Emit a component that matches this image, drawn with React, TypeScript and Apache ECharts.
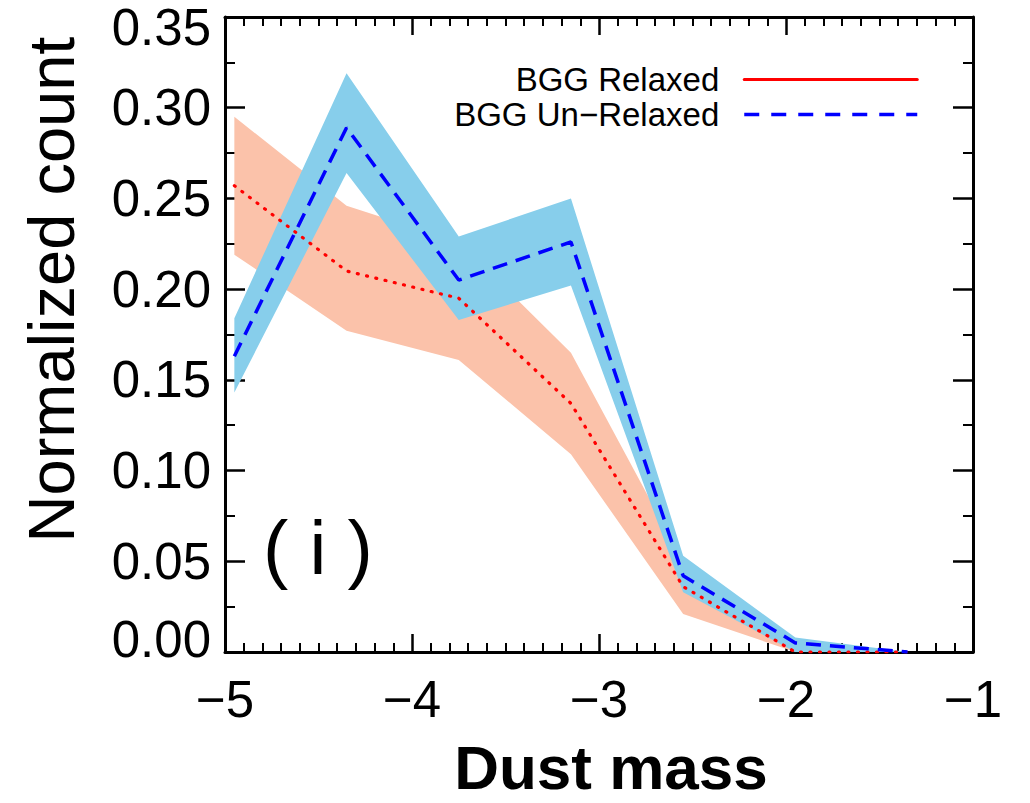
import React, { useEffect, useRef } from "react";
import * as echarts from "echarts";

// ---- data ----
const xCenters = [-4.95, -4.35, -3.75, -3.15, -2.55, -1.95, -1.35];

const relaxedMean = [0.257, 0.21, 0.195, 0.137, 0.036, 0.0, 0.0];
const relaxedLow = [0.219, 0.177, 0.161, 0.109, 0.021, 0.0, 0.0];
const relaxedHigh = [0.295, 0.246, 0.226, 0.165, 0.05, 0.001, 0.0];

const unrelaxedMean = [0.163, 0.289, 0.205, 0.226, 0.042, 0.005, 0.0];
const unrelaxedLow = [0.143, 0.264, 0.183, 0.202, 0.033, 0.0, 0.0];
const unrelaxedHigh = [0.184, 0.319, 0.229, 0.25, 0.053, 0.008, 0.0];

const seriesNames = ["BGG Relaxed", "BGG Un\u2212Relaxed"];
const xTitle = "Dust mass";
const yTitle = "Normalized count";
const panelLabel = "( i )";

const FONT = '"Liberation Sans", Arial, Helvetica, sans-serif';

function bandSeries(lo: number[], hi: number[], color: string, z: number) {
  return {
    type: "custom",
    xAxisIndex: 0,
    yAxisIndex: 0,
    z,
    silent: true,
    clip: true,
    data: xCenters.map((x, i) => [x, lo[i], hi[i]]),
    encode: { x: 0, y: [1, 2] },
    renderItem: (params: any, api: any) => {
      if (params.dataIndex !== 0) return null;
      const pts: number[][] = [];
      for (let i = 0; i < xCenters.length; i++) pts.push(api.coord([xCenters[i], hi[i]]));
      for (let i = xCenters.length - 1; i >= 0; i--) pts.push(api.coord([xCenters[i], lo[i]]));
      return { type: "polygon", shape: { points: pts }, style: { fill: color, stroke: null } };
    },
  };
}

export default function App() {
  const ref = useRef<HTMLDivElement>(null);
  useEffect(() => {
    if (!ref.current) return;
    const chart = echarts.init(ref.current, null, { renderer: "svg" });

    const xTickCommon = {
      axisLine: { show: true, onZero: false, lineStyle: { color: "#000", width: 3 } },
      axisTick: { show: true, inside: true, length: 18, lineStyle: { color: "#000", width: 2.5 } },
      minorTick: { show: true, splitNumber: 10, length: 9, lineStyle: { color: "#000", width: 2 } },
      splitLine: { show: false },
      minorSplitLine: { show: false },
    };
    const yTickCommon = {
      axisLine: { show: true, onZero: false, lineStyle: { color: "#000", width: 3 } },
      axisTick: { show: true, inside: true, length: 20, lineStyle: { color: "#000", width: 2.5 } },
      minorTick: { show: true, splitNumber: 2, length: 10, lineStyle: { color: "#000", width: 2 } },
      splitLine: { show: false },
      minorSplitLine: { show: false },
    };

    chart.setOption({
      animation: false,
      backgroundColor: "#fff",
      grid: { left: 225, right: 57, top: 17, bottom: 142, containLabel: false },
      xAxis: [
        {
          type: "value",
          min: -5,
          max: -1,
          interval: 1,
          position: "bottom",
          ...xTickCommon,
          axisLabel: {
            show: true,
            margin: 22,
            fontSize: 51,
            fontFamily: FONT,
            color: "#000",
            formatter: (v: number) => (v < 0 ? "\u2212" + Math.abs(v) : String(v)),
          },
          name: xTitle,
          nameLocation: "middle",
          nameGap: 84,
          nameTextStyle: {
            fontSize: 62,
            fontWeight: "bold",
            fontFamily: FONT,
            color: "#000",
            padding: [0, 0, 0, 24],
          },
        },
        {
          type: "value",
          min: -5,
          max: -1,
          interval: 1,
          position: "top",
          ...xTickCommon,
          axisLabel: { show: false },
        },
      ],
      yAxis: [
        {
          type: "value",
          min: 0,
          max: 0.35,
          interval: 0.05,
          position: "left",
          ...yTickCommon,
          axisLabel: {
            show: true,
            margin: 14,
            fontSize: 51,
            fontFamily: FONT,
            color: "#000",
            formatter: (v: number) => {
              const s = v.toFixed(2);
              if (Math.abs(v - 0.35) < 1e-9) return "{t|" + s + "}";
              if (Math.abs(v) < 1e-9) return "{b|" + s + "}";
              return s;
            },
            rich: {
              t: { fontSize: 51, fontFamily: FONT, color: "#000", padding: [20, 0, 0, 0] },
              b: { fontSize: 51, fontFamily: FONT, color: "#000", padding: [0, 0, 26, 0] },
            },
          },
          name: yTitle,
          nameLocation: "middle",
          nameRotate: 90,
          nameGap: 141,
          nameTextStyle: {
            fontSize: 65,
            fontFamily: FONT,
            color: "#000",
            padding: [0, 0, 0, 90],
          },
        },
        {
          type: "value",
          min: 0,
          max: 0.35,
          interval: 0.05,
          position: "right",
          ...yTickCommon,
          axisLabel: { show: false },
        },
      ],
      legend: {
        show: true,
        orient: "vertical",
        right: 106,
        top: 58,
        align: "right",
        itemWidth: 173,
        itemHeight: 20,
        itemGap: 2,
        selectedMode: false,
        textStyle: { fontSize: 33, fontFamily: FONT, color: "#000", padding: [0, 20, 0, 0] },
        data: [
          { name: seriesNames[0], itemStyle: { opacity: 0 }, lineStyle: { type: "solid", width: 3, color: "#ff0000" } },
          { name: seriesNames[1], itemStyle: { opacity: 0 }, lineStyle: { type: [15, 12], width: 3.5, color: "#0000ff" } },
        ],
      },
      graphic: [
        {
          type: "text",
          x: 263,
          y: 547,
          silent: true,
          style: {
            text: panelLabel,
            font: "76px " + FONT,
            fill: "#000",
            verticalAlign: "middle",
            align: "left",
          },
        },
      ],
      series: [
        bandSeries(relaxedLow, relaxedHigh, "#fbc2aa", 1),
        bandSeries(unrelaxedLow, unrelaxedHigh, "#87ceeb", 2),
        {
          name: seriesNames[0],
          type: "line",
          xAxisIndex: 0,
          yAxisIndex: 0,
          z: 3,
          symbol: "none",
          showSymbol: false,
          clip: true,
          color: "#ff0000",
          lineStyle: { color: "#ff0000", width: 3.2, type: [1, 8.5], cap: "round" },
          data: xCenters.map((x, i) => [x, relaxedMean[i]]),
        },
        {
          name: seriesNames[1],
          type: "line",
          xAxisIndex: 0,
          yAxisIndex: 0,
          z: 4,
          symbol: "none",
          showSymbol: false,
          clip: true,
          color: "#0000ff",
          lineStyle: { color: "#0000ff", width: 3.5, type: [15, 9] },
          data: xCenters.map((x, i) => [x, unrelaxedMean[i]]),
        },
      ],
    });

    return () => chart.dispose();
  }, []);

  return (
    <div
      ref={ref}
      style={{ width: 1030, height: 803, position: "absolute", left: 0, top: 0, background: "#fff" }}
    />
  );
}
